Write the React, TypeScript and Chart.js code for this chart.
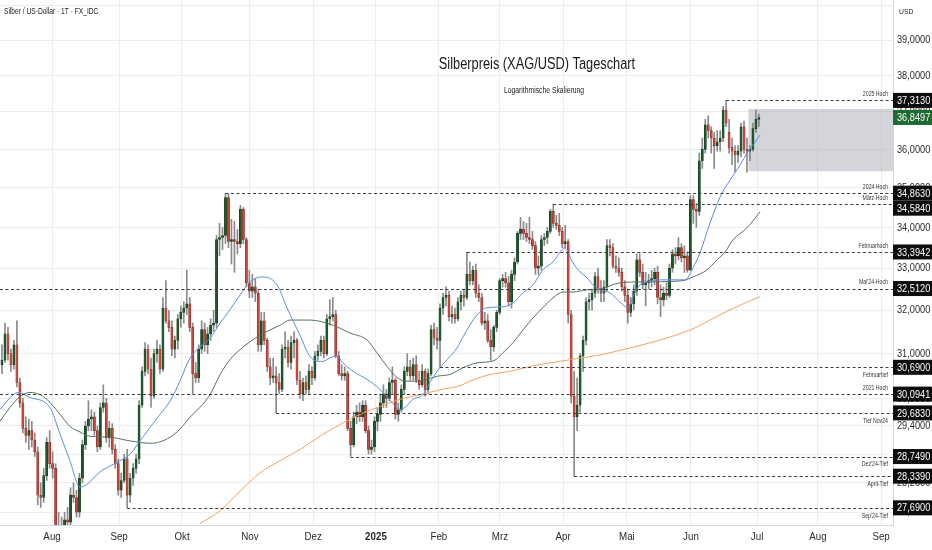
import React, { useEffect, useRef } from "react";
import { Chart, registerables } from "chart.js";

Chart.register(...registerables);

const SANS = '"Liberation Sans", "Noto Sans", sans-serif';

// ---- Daily candles, 9 Jul 2024 .. 3 Jul 2025 (index = trading day) ----
const opens = [
  30.75, 30.85, 31.45, 31.0, 30.75, 31.2, 30.35, 29.9, 29.35, 29.2,
  29.3, 29.1, 28.85, 27.95, 27.9, 28.35, 29.05, 28.6, 28.5, 27.2,
  27.3, 26.9, 27.45, 27.4, 27.95, 27.9, 27.6, 28.3, 29.0, 29.4,
  29.55, 29.6, 29.3, 28.95, 29.8, 29.9, 29.15, 29.35, 28.9, 28.6,
  28.05, 28.25, 28.7, 27.95, 28.3, 28.5, 28.7, 29.85, 30.6, 31.1,
  30.65, 30.05, 31.0, 31.1, 30.65, 32.05, 31.75, 31.6, 31.1, 31.3,
  31.8, 31.95, 32.05, 32.15, 31.6, 30.55, 30.45, 31.1, 31.55, 31.2,
  31.45, 31.65, 31.7, 33.7, 33.75, 33.8, 34.75, 33.65, 33.7, 33.65,
  33.6, 34.45, 33.7, 32.65, 32.45, 32.55, 32.4, 31.2, 31.75, 31.3,
  30.7, 30.45, 30.5, 30.35, 30.2, 31.1, 31.15, 30.8, 31.25, 31.3,
  30.4, 30.1, 30.35, 30.2, 30.6, 30.45, 30.95, 31.05, 31.3, 31.0,
  31.8, 31.85, 31.9, 30.95, 30.55, 30.5, 30.55, 29.35, 29.0, 29.6,
  29.7, 29.6, 29.85, 29.3, 28.9, 28.95, 29.5, 29.65, 29.9, 30.1,
  30.0, 30.35, 30.4, 29.65, 29.75, 30.2, 30.6, 30.7, 30.5, 30.75,
  30.4, 30.3, 30.6, 30.2, 30.55, 31.55, 31.35, 31.3, 32.05, 32.3,
  32.35, 31.85, 31.9, 31.8, 32.2, 32.35, 32.3, 32.85, 32.7, 32.95,
  32.4, 32.3, 31.7, 31.75, 31.3, 31.15, 31.6, 31.95, 32.7, 32.75,
  32.65, 32.2, 32.85, 33.15, 33.85, 33.95, 33.85, 33.75, 33.7, 33.55,
  33.0, 33.05, 33.7, 33.75, 33.9, 34.4, 34.1, 34.05, 33.9, 33.6,
  33.65, 31.9, 30.05, 29.6, 29.85, 30.95, 31.3, 32.2, 32.25, 32.4,
  32.8, 32.5, 32.4, 32.55, 33.55, 33.5, 33.05, 33.0, 32.9, 32.55,
  32.35, 31.95, 32.15, 32.45, 33.2, 32.9, 32.6, 32.65, 32.7, 32.75,
  32.9, 32.3, 32.25, 32.4, 32.35, 33.0, 33.35, 33.3, 33.5, 33.25,
  33.3, 32.95, 34.7, 34.45, 34.4, 35.7, 36.0, 36.65, 36.5, 36.3,
  36.1, 36.2, 36.3, 37.05, 36.45, 36.05, 35.95, 35.85, 35.95, 36.6,
  36.0, 35.95, 36.0, 36.55, 36.8,
];
const highs = [
  31.2, 31.7, 31.6, 31.1, 31.3, 31.75, 30.45, 30.0, 29.6, 29.55,
  29.5, 29.25, 28.95, 28.2, 28.5, 29.15, 29.3, 28.85, 28.6, 27.6,
  27.5, 27.6, 27.7, 28.1, 28.2, 28.05, 28.4, 29.1, 29.5, 29.95,
  29.75, 29.7, 29.4, 29.9, 30.3, 30.0, 29.5, 29.45, 29.0, 28.7,
  28.4, 28.8, 28.9, 28.4, 28.6, 28.8, 29.95, 30.7, 31.25, 31.2,
  30.9, 31.1, 31.3, 31.2, 32.3, 32.7, 32.0, 31.75, 31.4, 31.9,
  32.1, 32.2, 32.95, 32.3, 31.7, 30.8, 31.2, 31.75, 31.7, 31.6,
  31.8, 32.0, 33.8, 34.1, 34.0, 34.863, 34.85, 34.2, 34.15, 33.95,
  34.55, 34.5, 33.75, 32.95, 32.85, 32.75, 32.5, 31.95, 31.95, 31.35,
  30.9, 30.9, 30.7, 30.55, 31.2, 31.5, 31.3, 31.4, 31.5, 31.35,
  30.6, 30.45, 30.5, 30.75, 30.7, 31.05, 31.2, 31.4, 31.4, 31.9,
  32.25, 32.3, 32.0, 31.05, 30.75, 30.7, 30.6, 29.5, 29.7, 29.85,
  29.9, 29.95, 29.95, 29.4, 29.1, 29.6, 29.8, 30.1, 30.3, 30.2,
  30.45, 30.7, 30.45, 29.9, 30.3, 30.7, 31.0, 30.85, 30.9, 30.95,
  30.6, 30.75, 30.65, 30.65, 31.65, 31.7, 31.6, 32.15, 32.4, 32.55,
  32.45, 32.1, 32.05, 32.3, 32.45, 32.5, 33.394, 33.15, 33.05, 33.1,
  32.6, 32.4, 31.95, 31.9, 31.55, 31.65, 32.0, 32.75, 32.85, 32.9,
  32.8, 32.95, 33.25, 33.9, 34.25, 34.15, 34.1, 34.25, 33.9, 33.65,
  33.3, 33.8, 33.85, 34.0, 34.45, 34.584, 34.3, 34.35, 34.0, 34.05,
  33.7, 32.0, 30.6, 30.45, 31.0, 31.4, 32.3, 32.4, 32.5, 32.9,
  33.0, 32.7, 32.7, 33.7, 33.7, 33.6, 33.3, 33.25, 33.0, 32.7,
  32.5, 32.3, 32.6, 33.35, 33.35, 33.1, 32.9, 32.85, 32.95, 33.0,
  33.05, 32.6, 32.55, 32.65, 33.1, 33.45, 33.5, 33.75, 33.6, 33.55,
  33.4, 34.8, 34.8, 34.6, 35.9, 36.3, 36.8, 36.9, 36.6, 36.45,
  36.5, 36.5, 37.15, 37.313, 36.8, 36.3, 36.1, 36.1, 36.7, 36.75,
  36.3, 36.1, 36.7, 37.05, 36.95,
];
const lows = [
  30.55, 30.8, 30.85, 30.6, 30.65, 30.25, 29.8, 29.25, 29.05, 28.9,
  28.95, 28.75, 27.75, 27.7, 27.8, 28.25, 28.5, 28.3, 26.8, 26.9,
  26.7, 26.8, 27.3, 27.35, 27.8, 27.5, 27.5, 28.2, 28.9, 29.3,
  29.3, 29.2, 28.85, 28.9, 29.7, 29.05, 28.95, 28.8, 28.5, 27.95,
  27.9, 28.2, 27.69, 27.8, 28.15, 28.4, 28.6, 29.8, 30.5, 30.55,
  29.8, 30.0, 30.8, 30.55, 30.6, 31.7, 31.5, 30.95, 30.9, 31.1,
  31.6, 31.7, 31.9, 31.5, 30.1, 30.35, 30.35, 31.0, 31.05, 31.0,
  31.3, 31.5, 31.6, 33.3, 33.45, 33.6, 33.5, 33.1, 32.9, 33.35,
  33.5, 33.6, 32.55, 32.3, 32.3, 32.2, 31.05, 31.05, 31.2, 30.6,
  30.3, 30.35, 29.683, 30.1, 30.15, 30.9, 30.7, 30.65, 30.9, 30.3,
  30.0, 29.95, 30.1, 30.1, 30.3, 30.4, 30.85, 30.95, 30.9, 30.95,
  31.65, 31.75, 30.9, 30.5, 30.4, 30.4, 29.3, 28.749, 28.95, 29.45,
  29.5, 29.5, 29.25, 28.8, 28.8, 28.85, 29.3, 29.5, 29.8, 29.8,
  29.95, 30.1, 29.55, 29.5, 29.7, 30.1, 30.5, 30.4, 30.4, 30.35,
  30.2, 30.25, 30.05, 30.1, 30.5, 31.2, 31.1, 30.69, 31.9, 32.1,
  31.75, 31.7, 31.7, 31.75, 32.0, 32.1, 32.25, 32.6, 32.6, 32.3,
  32.2, 31.65, 31.55, 31.25, 30.85, 31.05, 31.5, 31.9, 32.55, 32.55,
  32.1, 32.05, 32.7, 33.1, 33.7, 33.7, 33.65, 33.6, 33.45, 32.85,
  32.85, 32.95, 33.55, 33.6, 33.85, 34.0, 33.95, 33.8, 33.5, 33.5,
  31.7, 29.9, 28.339, 29.3, 29.7, 30.6, 31.2, 32.0, 32.0, 32.3,
  32.4, 32.2, 32.2, 32.45, 33.3, 33.0, 32.9, 32.8, 32.45, 32.2,
  31.7, 31.85, 32.0, 32.35, 32.8, 32.5, 32.1, 32.5, 32.55, 32.6,
  32.15, 31.85, 32.1, 32.25, 32.3, 32.9, 33.1, 33.2, 33.15, 32.9,
  32.9, 32.95, 34.1, 34.0, 34.3, 35.5, 35.9, 36.3, 35.9, 35.5,
  35.95, 35.95, 36.2, 36.6, 35.9, 35.6, 35.4, 35.65, 35.8, 35.9,
  35.4, 35.7, 35.95, 36.45, 36.6,
];
const closes = [
  30.85, 31.45, 31.0, 30.75, 31.2, 30.35, 29.9, 29.35, 29.2, 29.3,
  29.1, 28.85, 27.95, 27.9, 28.35, 29.05, 28.6, 28.5, 27.2, 27.3,
  26.9, 27.45, 27.4, 27.95, 27.9, 27.6, 28.3, 29.0, 29.4, 29.55,
  29.6, 29.3, 28.95, 29.8, 29.9, 29.15, 29.35, 28.9, 28.6, 28.05,
  28.25, 28.7, 27.95, 28.3, 28.5, 28.7, 29.85, 30.6, 31.1, 30.65,
  30.05, 31.0, 31.1, 30.65, 32.05, 31.75, 31.6, 31.1, 31.3, 31.8,
  31.95, 32.05, 32.15, 31.6, 30.55, 30.45, 31.1, 31.55, 31.2, 31.45,
  31.65, 31.7, 33.7, 33.75, 33.8, 34.75, 33.65, 33.7, 33.65, 33.6,
  34.45, 33.7, 32.65, 32.45, 32.55, 32.4, 31.2, 31.75, 31.3, 30.7,
  30.45, 30.5, 30.35, 30.2, 31.1, 31.15, 30.8, 31.25, 31.3, 30.4,
  30.1, 30.35, 30.2, 30.6, 30.45, 30.95, 31.05, 31.3, 31.0, 31.8,
  31.85, 31.9, 30.95, 30.55, 30.5, 30.55, 29.35, 29.0, 29.6, 29.7,
  29.6, 29.85, 29.3, 28.9, 28.95, 29.5, 29.65, 29.9, 30.1, 30.0,
  30.35, 30.4, 29.65, 29.75, 30.2, 30.6, 30.7, 30.5, 30.75, 30.4,
  30.3, 30.6, 30.2, 30.55, 31.55, 31.35, 31.3, 32.05, 32.3, 32.35,
  31.85, 31.9, 31.8, 32.2, 32.35, 32.3, 32.85, 32.7, 32.95, 32.4,
  32.3, 31.7, 31.75, 31.3, 31.15, 31.6, 31.95, 32.7, 32.75, 32.65,
  32.2, 32.85, 33.15, 33.85, 33.95, 33.85, 33.75, 33.7, 33.55, 33.0,
  33.05, 33.7, 33.75, 33.9, 34.4, 34.1, 34.05, 33.9, 33.6, 33.65,
  31.9, 30.05, 29.6, 29.85, 30.95, 31.3, 32.2, 32.25, 32.4, 32.8,
  32.5, 32.4, 32.55, 33.55, 33.5, 33.05, 33.0, 32.9, 32.55, 32.35,
  31.95, 32.15, 32.45, 33.2, 32.9, 32.6, 32.65, 32.7, 32.75, 32.9,
  32.3, 32.25, 32.4, 32.35, 33.0, 33.35, 33.3, 33.5, 33.25, 33.3,
  32.95, 34.7, 34.45, 34.4, 35.7, 36.0, 36.65, 36.5, 36.3, 36.1,
  36.2, 36.3, 37.05, 36.7, 36.05, 35.95, 35.85, 35.95, 36.6, 36.0,
  35.95, 36.0, 36.55, 36.8, 36.8497,
];

// ---- Moving averages (index, price) ----
const ma20Idx = [
  -0.7, 5.4, 9.4, 16.1, 19.5, 22.8, 26.2, 28.5, 32.9, 36.2, 39.6, 43, 46.3, 49.7, 53, 56.4,
  59.7, 63.1, 66.4, 69.8, 73.2, 76.5, 79.9, 83.2, 87.2, 92.3, 95.6, 100, 103.4, 107.4, 110.1,
  112.4, 114.4, 117.8, 122.5, 125.8, 129.2, 133.6, 135.2, 137.9, 141.3, 143.6, 146, 149.3,
  152.7, 154.7, 159.4, 162.8, 168.1, 171.5, 174.8, 178.2, 181.5, 184.9, 188.9, 191.6, 194,
  196.3, 198.3, 200.7, 204, 207.4, 210.1, 211.7, 214.1, 216.4, 220.8, 229.2, 231.9, 234.2,
  237.6, 241, 244.3, 247.7, 250, 252, 254.4,
];
const ma20Val = [
  29.76, 30.13, 30.02, 29.8, 29.22, 28.66, 28.11, 28.17, 28.43, 28.55, 28.66, 28.8, 29.08,
  29.37, 29.65, 29.94, 30.38, 30.9, 31.15, 31.35, 31.7, 32.01, 32.36, 32.67, 32.79, 32.6,
  32.06, 31.42, 30.93, 30.82, 30.9, 30.95, 30.79, 30.6, 30.42, 30.26, 30.04, 29.76, 29.8,
  29.98, 30.08, 30.35, 30.6, 30.86, 31.13, 31.38, 31.89, 32.06, 32.08, 32.17, 32.41, 32.6,
  32.96, 33.15, 33.49, 33.13, 32.91, 32.77, 32.6, 32.48, 32.41, 32.19, 32.06, 32.31, 32.6,
  32.67, 32.72, 32.72, 33.01, 33.37, 34.11, 34.77, 35.2, 35.59, 35.9, 36.11, 36.38,
];
const ma50Idx = [
  -0.7, 2.7, 6, 9.4, 12.8, 16.1, 19.5, 22.8, 26.2, 29.5, 36.2, 43, 49.7, 53, 56.4, 59.7,
  63.1, 66.4, 69.8, 73.2, 76.5, 79.9, 83.2, 86.6, 89.9, 93.3, 96.6, 103.4, 111.1, 116.8,
  122.5, 125.8, 129.2, 132.6, 135.9, 139.3, 142.6, 146, 150.3, 154.7, 159.4, 165.1, 168.1,
  171.5, 174.8, 178.2, 181.5, 184.9, 188.3, 191.6, 196.3, 200.7, 207.4, 214.1, 228.5,
  231.9, 236.6, 239.9, 242.6, 245.3, 250, 254.4,
];
const ma50Val = [
  29.5, 29.8, 30.04, 30.13, 30.08, 29.91, 29.65, 29.39, 29.27, 29.18, 29.16, 29.08, 29.03,
  29.06, 29.16, 29.33, 29.59, 29.8, 30.08, 30.53, 30.86, 31.09, 31.27, 31.42, 31.54, 31.65,
  31.77, 31.77, 31.65, 31.47, 31.31, 31.02, 30.71, 30.46, 30.38, 30.38, 30.42, 30.49, 30.53,
  30.68, 30.79, 30.84, 31.02, 31.25, 31.54, 31.82, 32.06, 32.29, 32.43, 32.43, 32.48, 32.5,
  32.65, 32.67, 32.7, 32.79, 32.96, 33.2, 33.39, 33.69, 33.99, 34.39,
];
const ma200Idx = [
  66.4, 73.2, 79.9, 86.6, 93.3, 100, 106.7, 113.4, 120.1, 126.8, 133.6, 140.3, 147, 153.7,
  157, 163.8, 170.5, 177.2, 183.9, 190.6, 197.3, 204, 230.9, 237.6, 244.3, 254.4,
];
const ma200Val = [
  27.37, 27.63, 28.03, 28.41, 28.66, 28.9, 29.18, 29.43, 29.65, 29.82, 29.98, 30.08, 30.19,
  30.28, 30.38, 30.53, 30.6, 30.71, 30.79, 30.86, 30.93, 31.02, 31.54, 31.77, 32.01, 32.32,
];

// ---- Axes ----
const monthPos = [16.8, 39.3, 60.4, 83.2, 104.4, 125.5, 146.6, 167.1, 188.3, 209.7, 231.2, 253.4, 273.8, 295];
const monthLabels = ["Aug", "Sep", "Okt", "Nov", "Dez", "2025", "Feb", "Mrz", "Apr", "Mai", "Jun", "Jul", "Aug", "Sep"];
const priceTicks = [40, 39, 38, 37, 36, 35, 34, 33, 32, 31, 30, 29.4, 28.8, 28.2, 27.6];

// ---- Horizontal levels ----
const levelPrices = [37.313, 34.863, 34.584, 33.3942, 32.512, 30.69, 30.0941, 29.683, 28.749, 28.339, 27.69];
const levelNames = ["2025 Hoch", "2024 Hoch", "März-Hoch", "Februarhoch", "Mai'24-Hoch", "Februartief", "2021 Hoch", "Tief Nov24", "Dez'24-Tief", "April-Tief", "Sep'24-Tief"];
const levelStart = [243, 75, 185, 156, -1, 147, -1, 92, 117, 192, 42];
const levelBelow = [false, false, false, false, false, true, false, true, true, true, true];
const lastPrice = 36.8497;
const zoneStart = 250.5;
const zonePrices = [35.43, 37.08];

const X_MIN = -0.671;
const X_MAX = 299.0;
const Y_MIN = 27.344;
const Y_MAX = 40.159;

const fmt = (v: number) => v.toFixed(4).replace(".", ",");

// narrow text: regular sans squeezed horizontally
function narrowText(
  ctx: CanvasRenderingContext2D,
  text: string,
  x: number,
  y: number,
  size: number,
  align: CanvasTextAlign,
  color: string,
  sx = 0.82,
  weight = "normal"
) {
  ctx.save();
  ctx.font = `${weight} ${size}px ${SANS}`;
  ctx.fillStyle = color;
  ctx.textAlign = align;
  ctx.textBaseline = "middle";
  ctx.translate(x, y);
  ctx.scale(sx, 1);
  ctx.fillText(text, 0, 0);
  ctx.restore();
}

export default function App() {
  const ref = useRef<HTMLCanvasElement>(null);

  useEffect(() => {
    document.body.style.margin = "0";
    const canvas = ref.current as HTMLCanvasElement;
    const idx = closes.map((_, i) => i);
    const isUp = idx.map((i) => closes[i] >= opens[i]);
    const wicks = idx.map((i) => ({ x: i, y: [lows[i], highs[i]] }));
    const bodies = idx.map((i) => ({ x: i, y: [opens[i], closes[i]] }));
    const line = (xs: number[], ys: number[]) => xs.map((x, k) => ({ x, y: ys[k] }));

    const overlay = {
      id: "overlay",
      beforeDatasetsDraw(chart: any) {
        const { ctx, chartArea: a, scales } = chart;
        const x0 = scales.x.getPixelForValue(zoneStart);
        const yTop = scales.y.getPixelForValue(zonePrices[1]);
        const yBot = scales.y.getPixelForValue(zonePrices[0]);
        ctx.save();
        ctx.fillStyle = "rgba(160,162,172,0.45)";
        ctx.fillRect(x0, yTop, a.right - x0, yBot - yTop);
        ctx.restore();
      },
      afterDatasetsDraw(chart: any) {
        const { ctx, chartArea: a, scales } = chart;
        ctx.save();
        ctx.beginPath();
        ctx.rect(a.left, a.top, a.right - a.left, a.bottom - a.top);
        ctx.clip();
        ctx.strokeStyle = "#3c3c3c";
        ctx.lineWidth = 1;
        ctx.setLineDash([3, 2.5]);
        levelPrices.forEach((p, k) => {
          const y = Math.round(scales.y.getPixelForValue(p)) + 0.5;
          const xs = levelStart[k] < 0 ? a.left : scales.x.getPixelForValue(levelStart[k]);
          ctx.beginPath();
          ctx.moveTo(xs, y);
          ctx.lineTo(a.right, y);
          ctx.stroke();
        });
        ctx.setLineDash([]);
        levelPrices.forEach((p, k) => {
          const y = scales.y.getPixelForValue(p);
          narrowText(ctx, levelNames[k], a.right - 5, levelBelow[k] ? y + 8 : y - 6, 6.5, "right", "#333", 0.8);
        });
        ctx.restore();
      },
      afterDraw(chart: any) {
        const { ctx, chartArea: a, scales, width } = chart;
        // y tick labels
        priceTicks.forEach((v) => {
          if (v > 39.5) return;
          narrowText(ctx, fmt(v), a.right + 4, scales.y.getPixelForValue(v), 11.5, "left", "#2a2a2a", 0.8);
        });
        // x tick labels
        monthPos.forEach((v, k) => {
          narrowText(ctx, monthLabels[k], scales.x.getPixelForValue(v), 537, 11.5, "center", "#2a2a2a", 0.85, k === 5 ? "bold" : "normal");
        });
        // price tags
        const tags = levelPrices
          .map((p) => ({ p, y: scales.y.getPixelForValue(p), c: "#0d0d0d" }))
          .concat([{ p: lastPrice, y: scales.y.getPixelForValue(lastPrice), c: "#1f6a30" }])
          .sort((m, n) => m.y - n.y);
        let prev = -100;
        const h = 15;
        tags.forEach((t) => {
          let y = t.y;
          if (y < prev + h) y = prev + h;
          prev = y;
          ctx.save();
          ctx.fillStyle = t.c;
          ctx.fillRect(a.right, y - h / 2, width - a.right, h);
          ctx.restore();
          narrowText(ctx, fmt(t.p), a.right + 4, y + 0.5, 11.5, "left", "#ffffff", 0.8);
        });
        // header texts
        narrowText(ctx, "Silber / US-Dollar · 1T · FX_IDC", 4, 12, 8.5, "left", "#222", 0.78);
        narrowText(ctx, "USD", a.right + 6, 12, 8, "left", "#222", 0.85);
        narrowText(ctx, "Silberpreis (XAG/USD) Tageschart", 537, 65, 16, "center", "#1a1a1a", 0.8);
        narrowText(ctx, "Logarithmische Skalierung", 544, 91, 8.5, "center", "#222", 0.8);
      },
    };

    const chart = new Chart(canvas, {
      type: "bar",
      data: {
        datasets: [
          {
            type: "line",
            data: line(ma20Idx, ma20Val),
            borderColor: "#5b8de8",
            borderWidth: 1,
            pointRadius: 0,
            cubicInterpolationMode: "monotone",
            order: 0,
            clip: 0,
          } as any,
          {
            type: "line",
            data: line(ma50Idx, ma50Val),
            borderColor: "#56735a",
            borderWidth: 1,
            pointRadius: 0,
            cubicInterpolationMode: "monotone",
            order: 0,
            clip: 0,
          } as any,
          {
            type: "line",
            data: line(ma200Idx, ma200Val),
            borderColor: "#f5a260",
            borderWidth: 1,
            pointRadius: 0,
            cubicInterpolationMode: "monotone",
            order: 0,
            clip: 0,
          } as any,
          {
            type: "bar",
            data: bodies,
            backgroundColor: isUp.map((u) => (u ? "#1d5a2b" : "#c9473b")),
            borderColor: isUp.map((u) => (u ? "#10371a" : "#7d241c")),
            borderWidth: 0.5,
            borderSkipped: false,
            barThickness: 2.2,
            minBarLength: 1,
            grouped: false,
            order: 1,
            clip: 0,
          } as any,
          {
            type: "bar",
            data: wicks,
            backgroundColor: "#8a8a8a",
            borderWidth: 0,
            barThickness: 1,
            grouped: false,
            order: 2,
            clip: 0,
          } as any,
        ],
      },
      options: {
        animation: false,
        responsive: false,
        devicePixelRatio: 1,
        layout: { padding: 0 },
        plugins: {
          legend: { display: false },
          tooltip: { enabled: false },
        },
        scales: {
          x: {
            type: "linear",
            min: X_MIN,
            max: X_MAX,
            offset: false,
            position: "bottom",
            grid: { color: "#ededed", drawTicks: false, offset: false },
            border: { display: true, color: "#d8d8d8" },
            afterBuildTicks: (s: any) => {
              s.ticks = monthPos.map((v) => ({ value: v }));
            },
            afterFit: (s: any) => {
              s.height = 25;
            },
            ticks: { display: false, autoSkip: false },
          },
          y: {
            type: "logarithmic",
            position: "right",
            min: Y_MIN,
            max: Y_MAX,
            grid: { color: "#ededed", drawTicks: false },
            border: { display: true, color: "#d8d8d8" },
            afterBuildTicks: (s: any) => {
              s.ticks = priceTicks.map((v) => ({ value: v }));
            },
            afterFit: (s: any) => {
              s.width = 39;
            },
            ticks: { display: false, autoSkip: false },
          },
        },
      } as any,
      plugins: [overlay],
    });
    return () => chart.destroy();
  }, []);

  return (
    <div style={{ position: "fixed", left: 0, top: 0, width: 932, height: 550, background: "#fff" }}>
      <canvas ref={ref} width={932} height={550} style={{ display: "block" }} />
    </div>
  );
}
